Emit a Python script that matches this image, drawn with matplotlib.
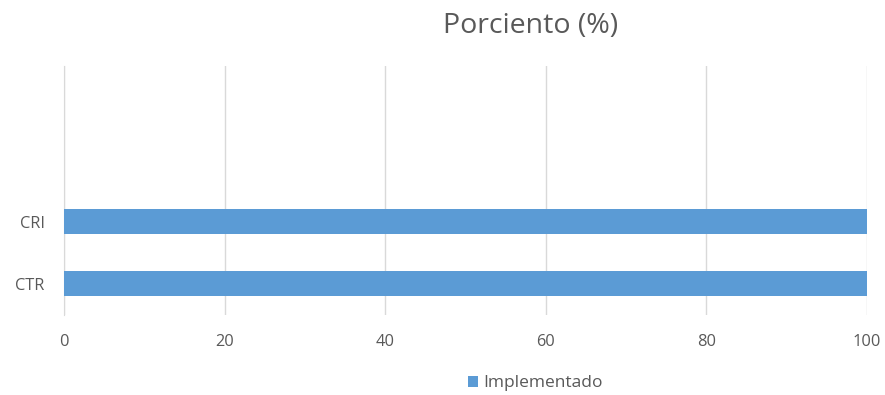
import matplotlib.pyplot as plt

# --- data ---
categories = ['CTR', 'CRI', '', '']
implementado = [100, 100, 0, 0]
x_ticks = [0, 20, 40, 60, 80, 100]

plt.rcParams['font.family'] = ['Open Sans', 'DejaVu Sans']

fig = plt.figure(figsize=(8.85, 3.95), dpi=100)
ax = fig.add_axes([0.0723, 0.2025, 0.9074, 0.6305])

ypos = list(range(len(categories)))
ax.barh(ypos, implementado, height=0.4, color='#5B9BD5', label='Implementado', zorder=3)

ax.set_xlim(0, 100)
ax.set_ylim(-0.5, len(categories) - 0.5)
ax.set_xticks(x_ticks)
ax.set_yticks(ypos)
ax.set_yticklabels(categories)

ax.grid(axis='x', color='#D9D9D9', linewidth=1, zorder=0)
for side in ['top', 'right', 'bottom']:
    ax.spines[side].set_visible(False)
ax.spines['left'].set_color('#D9D9D9')
ax.tick_params(length=0, colors='#595959', labelsize=11.8)
ax.tick_params(axis='x', pad=14)
ax.tick_params(axis='y', pad=14)

fig.text(0.599, 0.935, 'Porciento (%)', ha='center', va='center', fontsize=20.5, color='#595959')

fig.legend(loc='center', bbox_to_anchor=(0.605, 0.03), frameon=False, fontsize=12.5,
           handlelength=0.6, handleheight=0.6, handletextpad=0.3, labelcolor='#595959')

fig.savefig('out.png', dpi=100)
